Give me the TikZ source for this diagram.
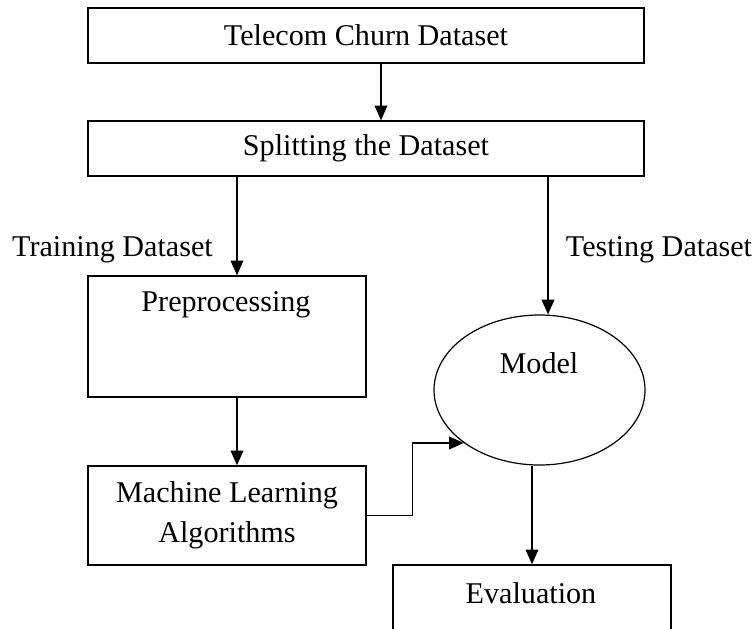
\documentclass[tikz,border=0pt]{standalone}
\usepackage{fontspec}
\setmainfont{Liberation Serif}
\usetikzlibrary{arrows.meta,calc,shapes.geometric}

\tikzset{every picture/.style={line width=0.75pt}}
\tikzset{
  box/.style={draw, line width=1.1pt, inner sep=0pt, font=\fontsize{22.6pt}{30pt}\selectfont, align=center},
  txt/.style={inner sep=0pt, font=\fontsize{22.6pt}{30pt}\selectfont},
  arr/.style={-{Triangle[length=11pt,width=9.5pt]}, line width=1.1pt}
}

\begin{document}
\begin{tikzpicture}[x=0.75pt,y=0.75pt,yscale=-1,xscale=1]
	\useasboundingbox (0,0) rectangle (756,628);
	\clip (0,0) rectangle (756,628);

	%Shape: Rectangle [id:data]
	\node[box, minimum width=417pt, minimum height=41.25pt] (data) at (366,35.5) {Telecom Churn Dataset};
	%Shape: Rectangle [id:split]
	\node[box, minimum width=417pt, minimum height=41.25pt] (split) at (366,148.5) {Splitting the Dataset};
	%Shape: Rectangle [id:prep]
	\node[box, minimum width=208.5pt, minimum height=90.75pt] (prep) at (227,336.5) {};
	%Shape: Rectangle [id:ml]
	\node[box, minimum width=208.5pt, minimum height=74.25pt] (ml) at (227,515.5) {Machine Learning\\Algorithms};
	%Shape: Ellipse [id:model]
	\node[draw, ellipse, line width=0.9pt, inner sep=0pt, minimum width=158.25pt, minimum height=112.5pt] (model) at (539.5,390) {};
	%Shape: Rectangle [id:eval]
	\node[box, minimum width=208.5pt, minimum height=90.75pt] (eval) at (532,625.5) {};

	% arrow ends
	\coordinate (trainIn) at ($(prep.north)+(10,0)$);
	\coordinate (testIn) at ($(model.north)+(8.5,0)$);

	%Straight Lines
	\draw[arr] ($(data.south)+(15,0)$) -- ($(split.north)+(15,0)$);
	\draw[arr] (trainIn |- split.south) -- (trainIn);
	\draw[arr] (testIn |- split.south) -- (testIn);
	\draw[arr] ($(prep.south)+(10,0)$) -- ($(ml.north)+(10,0)$);
	\draw[arr] (ml.east) -- ++(46,0) |- (model.215);
	\draw[arr] (eval.north |- model.south) -- (eval.north);

	% Text Node
	\node[txt] (prepText) at (226,305) {Preprocessing};
	% Text Node
	\node[txt] (modelText) at (539,363) {Model};
	% Text Node
	\node[txt] (evalText) at (531,593) {Evaluation};
	% Text Node
	\node[txt] (trainText) at (112.5,250) {Training Dataset};
	% Text Node
	\node[txt] (testText) at (659,250) {Testing Dataset};

\end{tikzpicture}
\end{document}
